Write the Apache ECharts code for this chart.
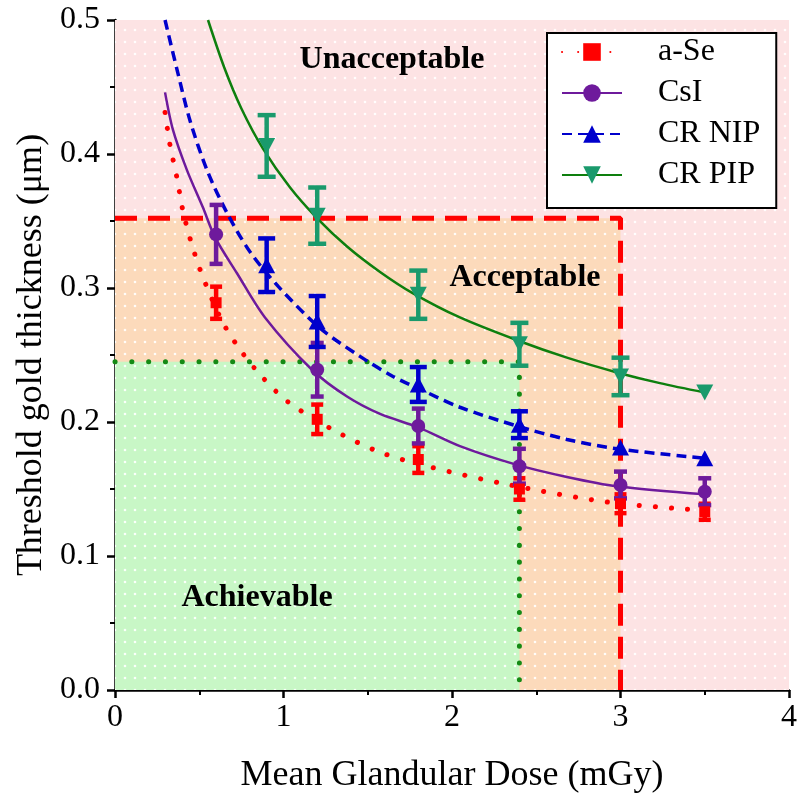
<!DOCTYPE html>
<html><head><meta charset="utf-8">
<script src="https://cdn.jsdelivr.net/npm/echarts@6/dist/echarts.min.js"></script>
<style>html,body{margin:0;padding:0;background:#fff}#c{width:800px;height:803px}</style>
</head><body><div id="c"></div>
<script>
// ---------- data ----------
const doseA = [0.6, 1.2, 1.8, 2.4, 3.0, 3.5];          // a-Se, CsI
const doseB = [0.9, 1.2, 1.8, 2.4, 3.0, 3.5];          // CR NIP, CR PIP
const aSeVals = [0.289, 0.202, 0.172, 0.150, 0.139, 0.133];
const aSeErr  = [0.012, 0.011, 0.010, 0.008, 0.007, 0.006];
const csiVals = [0.340, 0.239, 0.197, 0.167, 0.153, 0.148];
const csiErr  = [0.022, 0.020, 0.013, 0.013, 0.010, 0.010];
const nipVals = [0.317, 0.275, 0.228, 0.198, 0.181, 0.173];
const nipErr  = [0.020, 0.019, 0.013, 0.010, 0, 0];
const pipVals = [0.406, 0.354, 0.295, 0.258, 0.234, 0.222];
const pipErr  = [0.023, 0.021, 0.018, 0.016, 0.014, 0];

// fitted curves as [dose, thickness]
const aSeCurve = [[0.297,0.431],[0.326,0.407],[0.368,0.382],[0.404,0.357],[0.457,0.332],[0.522,0.308],[0.641,0.274],[0.754,0.252],[0.878,0.233],[1.027,0.215],[1.282,0.195],[1.561,0.178],[1.852,0.167],[2.344,0.153],[2.938,0.140],[3.5,0.134]];
const csiCurve = [[0.297,0.446],[0.344,0.418],[0.427,0.388],[0.522,0.360],[0.593,0.338],[0.724,0.311],[0.890,0.278],[1.169,0.239],[1.377,0.219],[1.573,0.206],[1.8,0.196],[2.047,0.182],[2.386,0.168],[2.682,0.159],[2.979,0.152],[3.5,0.146]];
const nipCurve = [[0.297,0.5],[0.368,0.463],[0.445,0.425],[0.546,0.388],[0.665,0.356],[0.801,0.327],[0.970,0.301],[1.217,0.270],[1.454,0.249],[1.650,0.234],[1.852,0.222],[2.047,0.211],[2.386,0.197],[2.682,0.187],[2.979,0.180],[3.5,0.173]];
const pipCurve = [[0.552,0.5],[0.65,0.464],[0.75,0.434],[0.878,0.404],[1.039,0.375],[1.2,0.352],[1.377,0.331],[1.573,0.312],[1.769,0.296],[2.047,0.278],[2.386,0.261],[2.682,0.248],[2.979,0.237],[3.234,0.229],[3.5,0.222]];

// region thresholds
const acceptableDose = 3.0, acceptableThick = 0.352;
const achievableDose = 2.4, achievableThick = 0.245;
const xMax = 4, yMax = 0.5;

const xTickLabels = ['0','1','2','3','4'];
const yTickLabels = ['0.0','0.1','0.2','0.3','0.4','0.5'];
const legendNames = ['a-Se','CsI','CR NIP','CR PIP'];
const regionLabels = [[1.644,0.470,'Unacceptable'],[2.433,0.3075,'Acceptable'],[0.843,0.0687,'Achievable']];

// ---------- styling ----------
const FONT = "'Liberation Serif','Times New Roman',serif";
function dotted(bg){
  const c=document.createElement('canvas'); c.width=10; c.height=12;
  const g=c.getContext('2d'); g.fillStyle=bg; g.fillRect(0,0,10,12);
  g.fillStyle='rgba(255,255,255,0.9)'; g.beginPath(); g.arc(5,6,1.3,0,Math.PI*2); g.fill();
  return {image:c, repeat:'repeat'};
}
function errSeries(name, xs, ys, es, color, capW){
  return {
    type:'custom', name:name, z:4, silent:true,
    data: xs.map((x,i)=>[x, ys[i]-es[i], ys[i]+es[i]]),
    encode:{x:0, y:[1,2]},
    renderItem(params, api){
      const x=api.value(0), lo=api.value(1), hi=api.value(2);
      if (hi - lo <= 0) return null;
      const t=api.coord([x,hi]), b=api.coord([x,lo]); const hw=capW/2;
      const st={stroke:color, lineWidth:4.5, fill:null};
      return {type:'group', children:[
        {type:'line', shape:{x1:t[0],y1:t[1],x2:b[0],y2:b[1]}, style:st},
        {type:'line', shape:{x1:t[0]-hw,y1:t[1],x2:t[0]+hw,y2:t[1]}, style:st},
        {type:'line', shape:{x1:b[0]-hw,y1:b[1],x2:b[0]+hw,y2:b[1]}, style:st}
      ]};
    }
  };
}
const RED='#ff0000', PURPLE='#6e1a9c', BLUE='#0000cc', GREENLINE='#0e7f0e', TEAL='#1a9a6c', DKGREEN='#148a14';
const DOWN='path://M0,0 L10,0 L5,9 Z';

const chart = echarts.init(document.getElementById('c'), null, {renderer:'canvas'});
chart.setOption({
  backgroundColor:'#fff',
  animation:false,
  grid:{left:115, right:11, top:20, bottom:113, containLabel:false},
  xAxis:{type:'value', min:0, max:xMax, interval:1,
    axisLine:{show:true, onZero:false, lineStyle:{color:'#000', width:2.5}},
    axisTick:{show:true, length:8, lineStyle:{color:'#000', width:2.5}},
    minorTick:{show:true, splitNumber:2, length:5, lineStyle:{color:'#000', width:2}},
    splitLine:{show:false},
    axisLabel:{fontSize:32, fontFamily:FONT, color:'#000', margin:12, formatter:v=>xTickLabels[Math.round(v)]},
    name:'Mean Glandular Dose (mGy)', nameLocation:'middle', nameGap:68,
    nameTextStyle:{fontSize:36, fontFamily:FONT, color:'#000'}},
  yAxis:{type:'value', min:0, max:yMax, interval:0.1,
    axisLine:{show:true, onZero:false, lineStyle:{color:'#000', width:2.5}},
    axisTick:{show:true, length:8, lineStyle:{color:'#000', width:2.5}},
    minorTick:{show:true, splitNumber:2, length:5, lineStyle:{color:'#000', width:2}},
    splitLine:{show:false},
    axisLabel:{fontSize:32, fontFamily:FONT, color:'#000', margin:15, formatter:v=>yTickLabels[Math.round(v*10)]},
    name:'Threshold gold thickness (μm)', nameLocation:'middle', nameGap:64,
    nameTextStyle:{fontSize:36, fontFamily:FONT, color:'#000'}},
  legend:{orient:'vertical', left:547, top:33, data:legendNames, selectedMode:false,
    itemWidth:60, itemHeight:22, itemGap:9, padding:[3,16,17,14],
    backgroundColor:'#fff', borderColor:'#000', borderWidth:2,
    textStyle:{fontSize:32, fontFamily:FONT, color:'#000', padding:[0,0,0,31]}},
  series:[
    // curves (first, so the legend takes its icons from them)
    {type:'line', name:'a-Se', data:aSeCurve, smooth:0.3, symbol:'rect', symbolSize:12, showSymbol:false, z:3, silent:true,
      lineStyle:{color:RED, width:5, type:[0.1,16], cap:'round'}, itemStyle:{color:RED}},
    {type:'line', name:'CsI', data:csiCurve, smooth:0.3, symbol:'circle', symbolSize:14, showSymbol:false, z:3, silent:true,
      lineStyle:{color:PURPLE, width:2.5}, itemStyle:{color:PURPLE}},
    {type:'line', name:'CR NIP', data:nipCurve, smooth:0.3, symbol:'triangle', symbolSize:16, showSymbol:false, z:3, silent:true,
      lineStyle:{color:BLUE, width:3.5, type:[10,6]}, itemStyle:{color:BLUE}},
    {type:'line', name:'CR PIP', data:pipCurve, smooth:0.3, symbol:DOWN, symbolSize:16, showSymbol:false, z:3, silent:true,
      lineStyle:{color:GREENLINE, width:2.5}, itemStyle:{color:TEAL}},
    // region boundaries + shaded regions
    {type:'line', name:'acceptable', data:[[0,acceptableThick],[acceptableDose,acceptableThick],[acceptableDose,0]],
      symbol:'none', z:2, silent:true, lineStyle:{color:RED, width:5, type:[22,11]},
      markArea:{silent:true, itemStyle:{opacity:1, borderWidth:0}, data:[
        [{coord:[0,0], itemStyle:{color:dotted('#fde3e4'), opacity:1}},{coord:[xMax,yMax]}],
        [{coord:[0,0], itemStyle:{color:dotted('#fcdabb'), opacity:1}},{coord:[acceptableDose,acceptableThick]}],
        [{coord:[0,0], itemStyle:{color:dotted('#c8f7c6'), opacity:1}},{coord:[achievableDose,achievableThick]}]
      ]}},
    {type:'line', name:'achievable', data:[[0,achievableThick],[achievableDose,achievableThick],[achievableDose,0]],
      symbol:'none', z:2, silent:true, lineStyle:{color:DKGREEN, width:5, type:[0.1,16.7], cap:'round'}},
    // error bars
    errSeries('a-Se err', doseA, aSeVals, aSeErr, RED, 12),
    errSeries('CsI err', doseA, csiVals, csiErr, PURPLE, 13),
    errSeries('CR NIP err', doseB, nipVals, nipErr, BLUE, 17),
    errSeries('CR PIP err', doseB, pipVals, pipErr, TEAL, 18),
    // markers
    {type:'scatter', name:'a-Se', data:doseA.map((x,i)=>[x,aSeVals[i]]), symbol:'rect', symbolSize:11, z:5, itemStyle:{color:RED, opacity:1}},
    {type:'scatter', name:'CsI', data:doseA.map((x,i)=>[x,csiVals[i]]), symbol:'circle', symbolSize:14, z:5, itemStyle:{color:PURPLE, opacity:1}},
    {type:'scatter', name:'CR NIP', data:doseB.map((x,i)=>[x,nipVals[i]]), symbol:'triangle', symbolSize:[17,16], z:5, itemStyle:{color:BLUE, opacity:1}},
    {type:'scatter', name:'CR PIP', data:doseB.map((x,i)=>[x,pipVals[i]]), symbol:DOWN, symbolSize:[17,16], z:5, itemStyle:{color:TEAL, opacity:1}},
    // region labels
    {type:'scatter', name:'regions', data:regionLabels, symbolSize:0, z:6, silent:true, itemStyle:{opacity:1},
      label:{show:true, position:'inside', formatter:p=>p.data[2], fontSize:32, fontWeight:'bold', fontFamily:FONT, color:'#000', opacity:1, textBorderWidth:0}}
  ]
});
</script></body></html>
